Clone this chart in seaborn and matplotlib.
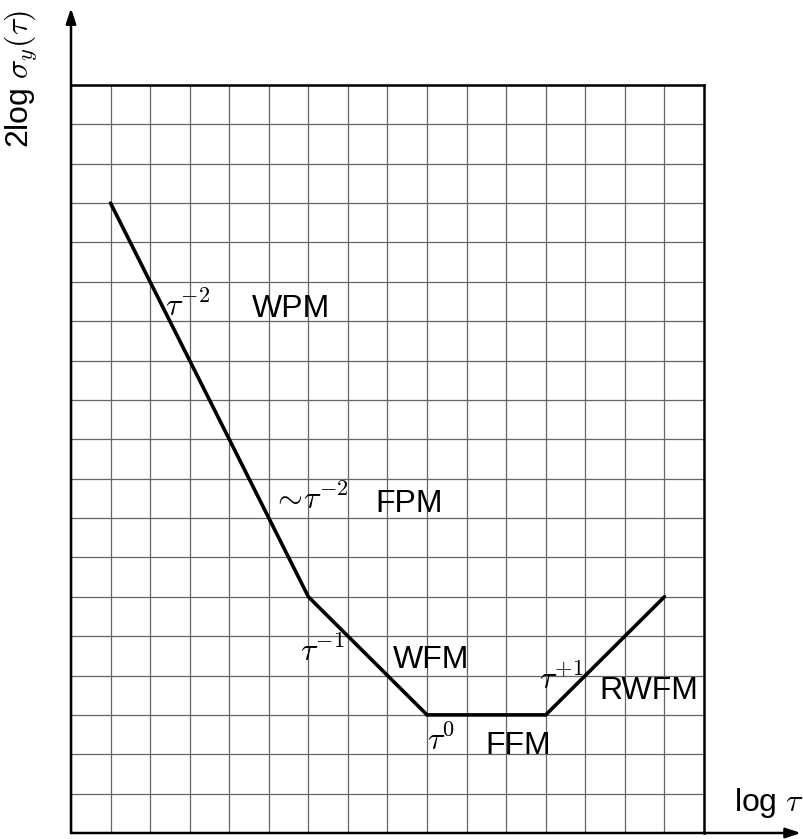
import matplotlib
matplotlib.use("Agg")
import matplotlib.pyplot as plt
import seaborn as sns
import pandas as pd

# data (grid units: log tau vs 2 log sigma)
log_tau = [1, 6, 9, 12, 15]
log_sigma = [16, 6, 3, 3, 6]

slope_labels = [r"$\tau^{\mathsf{-2}}$", r"$\sim\!\tau^{\mathsf{-2}}$", r"$\tau^{\mathsf{-1}}$",
                r"$\tau^{\mathsf{0}}$", r"$\tau^{\mathsf{+1}}$"]
slope_x = [2.95, 6.05, 6.35, 9.35, 12.4]
slope_y = [13.35, 8.45, 4.6, 2.35, 3.9]
noise_names = ["WPM", "FPM", "WFM", "FFM", "RWFM"]
noise_x = [5.55, 8.55, 9.1, 11.3, 14.6]
noise_y = [13.3, 8.35, 4.4, 2.2, 3.6]

sns.set_style("white")
plt.rcParams["font.family"] = ["Liberation Sans", "DejaVu Sans"]
plt.rcParams["mathtext.fontset"] = "cm"
plt.rcParams["text.color"] = "black"

fig = plt.figure(figsize=(8.04, 8.39), dpi=100)
ax = fig.add_axes([71/804, 1-833/839, (704-71)/804, (833-85)/839])

df = pd.DataFrame({"x": log_tau, "y": log_sigma})
sns.lineplot(data=df, x="x", y="y", ax=ax, color="black", lw=2.6, zorder=5,
             sort=False, solid_joinstyle="miter")

ax.set_xlim(0, 16)
ax.set_ylim(0, 19)
ax.set_xticks(range(17))
ax.set_yticks(range(20))
ax.tick_params(length=0, labelleft=False, labelbottom=False)
ax.grid(True, color="#666666", lw=0.9)
ax.set_xlabel("")
ax.set_ylabel("")
for s in ["top", "right"]:
    ax.spines[s].set_visible(True)
    ax.spines[s].set_color("black")
    ax.spines[s].set_linewidth(1.8)
for s in ["left", "bottom"]:
    ax.spines[s].set_visible(False)

arrow = dict(arrowstyle="-|>,head_length=0.9,head_width=0.3", color="black", lw=1.8, shrinkA=0, shrinkB=0)
ax.annotate("", xy=(0, 20.95), xytext=(0, 0), arrowprops=arrow, annotation_clip=False)
ax.annotate("", xy=(18.45, 0), xytext=(0, 0), arrowprops=arrow, annotation_clip=False)

fs = 23
for t, x, y in zip(slope_labels, slope_x, slope_y):
    ax.text(x, y, t, fontsize=fs, ha="center", va="center")
for t, x, y in zip(noise_names, noise_x, noise_y):
    ax.text(x, y, t, fontsize=fs, ha="center", va="center")

ax.text(17.65, 0.75, r"log $\tau$", fontsize=fs, ha="center", va="center", clip_on=False)
ax.text(-1.25, 19.15, r"2log $\sigma_y(\tau)$", fontsize=fs, ha="center", va="center",
        rotation=90, clip_on=False)

fig.savefig("out.png", dpi=100)
